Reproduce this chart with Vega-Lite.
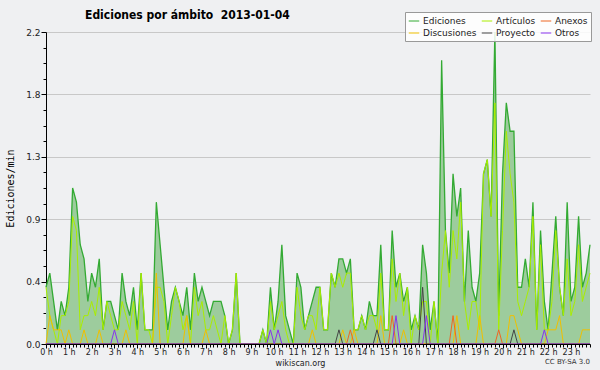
{
"$schema": "https://vega.github.io/schema/vega-lite/v6.json",
"width": 544, "height": 312,
"autosize": {"type": "none"},
"padding": {"left": 46, "top": 32, "right": 10, "bottom": 26},
"background": "#eff0f2",
"config": {"view": {"stroke": null}, "font": "DejaVu Sans", "axisX": {"labelOverlap": false}},
"title": {"text": "Ediciones por ámbito\u00a0 2013-01-04", "anchor": "start", "frame": "group", "dx": 39, "dy": 22, "offset": 12, "font": "DejaVu Sans Condensed", "fontSize": 12, "fontWeight": "bold", "color": "#000"},
"data": {"values": [
{"t":0,"E":0.4,"A":0.4,"D":0,"X":0,"P":0,"O":0},
{"t":10,"E":0.5,"A":0.2,"D":0.2,"X":0,"P":0,"O":0},
{"t":20,"E":0.3,"A":0.1,"D":0.1,"X":0,"P":0,"O":0},
{"t":30,"E":0.1,"A":0,"D":0.1,"X":0,"P":0,"O":0},
{"t":40,"E":0.3,"A":0.2,"D":0.1,"X":0,"P":0,"O":0},
{"t":50,"E":0.2,"A":0.2,"D":0,"X":0,"P":0,"O":0},
{"t":60,"E":0.4,"A":0.3,"D":0.1,"X":0,"P":0,"O":0},
{"t":70,"E":1.1,"A":0.9,"D":0,"X":0,"P":0,"O":0},
{"t":80,"E":1.0,"A":0.8,"D":0,"X":0,"P":0,"O":0},
{"t":90,"E":0.7,"A":0.1,"D":0,"X":0,"P":0,"O":0},
{"t":100,"E":0.6,"A":0.2,"D":0.1,"X":0,"P":0,"O":0},
{"t":110,"E":0.3,"A":0.2,"D":0,"X":0,"P":0,"O":0},
{"t":120,"E":0.5,"A":0.3,"D":0,"X":0,"P":0,"O":0},
{"t":130,"E":0.4,"A":0.2,"D":0,"X":0,"P":0,"O":0},
{"t":140,"E":0.6,"A":0.4,"D":0.1,"X":0,"P":0,"O":0},
{"t":150,"E":0.1,"A":0.1,"D":0,"X":0,"P":0,"O":0},
{"t":160,"E":0.3,"A":0.3,"D":0,"X":0,"P":0,"O":0},
{"t":170,"E":0.3,"A":0.2,"D":0,"X":0,"P":0,"O":0},
{"t":180,"E":0.2,"A":0.1,"D":0,"X":0,"P":0,"O":0.1},
{"t":190,"E":0.1,"A":0.1,"D":0,"X":0,"P":0,"O":0},
{"t":200,"E":0.5,"A":0.3,"D":0,"X":0,"P":0,"O":0},
{"t":210,"E":0.3,"A":0.2,"D":0.1,"X":0,"P":0,"O":0},
{"t":220,"E":0.2,"A":0.1,"D":0,"X":0,"P":0,"O":0},
{"t":230,"E":0.4,"A":0.3,"D":0,"X":0,"P":0,"O":0},
{"t":240,"E":0.1,"A":0,"D":0,"X":0,"P":0,"O":0},
{"t":250,"E":0.5,"A":0.5,"D":0,"X":0,"P":0,"O":0},
{"t":260,"E":0.1,"A":0.1,"D":0,"X":0,"P":0,"O":0},
{"t":270,"E":0.1,"A":0.1,"D":0,"X":0,"P":0,"O":0},
{"t":280,"E":0.1,"A":0,"D":0,"X":0,"P":0,"O":0},
{"t":290,"E":1.0,"A":0.4,"D":0.5,"X":0,"P":0,"O":0},
{"t":300,"E":0.7,"A":0.4,"D":0,"X":0,"P":0,"O":0},
{"t":310,"E":0.4,"A":0.3,"D":0,"X":0,"P":0,"O":0},
{"t":320,"E":0.1,"A":0,"D":0,"X":0,"P":0,"O":0},
{"t":330,"E":0.3,"A":0.2,"D":0,"X":0,"P":0,"O":0},
{"t":340,"E":0.4,"A":0.4,"D":0,"X":0,"P":0,"O":0},
{"t":350,"E":0.3,"A":0.3,"D":0,"X":0,"P":0,"O":0},
{"t":360,"E":0.2,"A":0.1,"D":0,"X":0,"P":0,"O":0},
{"t":370,"E":0.4,"A":0.2,"D":0.2,"X":0,"P":0,"O":0},
{"t":380,"E":0.1,"A":0,"D":0,"X":0,"P":0,"O":0},
{"t":390,"E":0.5,"A":0.4,"D":0,"X":0,"P":0,"O":0},
{"t":400,"E":0.3,"A":0.2,"D":0,"X":0,"P":0,"O":0},
{"t":410,"E":0.4,"A":0.3,"D":0,"X":0,"P":0,"O":0},
{"t":420,"E":0.3,"A":0.1,"D":0.1,"X":0,"P":0,"O":0},
{"t":430,"E":0.2,"A":0.1,"D":0,"X":0,"P":0,"O":0},
{"t":440,"E":0.3,"A":0.2,"D":0,"X":0,"P":0,"O":0},
{"t":450,"E":0.3,"A":0.1,"D":0,"X":0,"P":0,"O":0},
{"t":460,"E":0.3,"A":0,"D":0,"X":0,"P":0,"O":0},
{"t":470,"E":0.2,"A":0.2,"D":0,"X":0,"P":0,"O":0},
{"t":480,"E":0,"A":0,"D":0,"X":0,"P":0,"O":0},
{"t":490,"E":0.1,"A":0.1,"D":0,"X":0,"P":0,"O":0},
{"t":500,"E":0.5,"A":0.5,"D":0,"X":0,"P":0,"O":0},
{"t":510,"E":0,"A":0,"D":0,"X":0,"P":0,"O":0},
{"t":520,"E":0,"A":0,"D":0,"X":0,"P":0,"O":0},
{"t":530,"E":0,"A":0,"D":0,"X":0,"P":0,"O":0},
{"t":540,"E":0,"A":0,"D":0,"X":0,"P":0,"O":0},
{"t":550,"E":0,"A":0,"D":0,"X":0,"P":0,"O":0},
{"t":560,"E":0,"A":0,"D":0,"X":0,"P":0,"O":0},
{"t":570,"E":0.1,"A":0.1,"D":0,"X":0,"P":0,"O":0},
{"t":580,"E":0,"A":0,"D":0,"X":0,"P":0,"O":0},
{"t":590,"E":0.4,"A":0.3,"D":0,"X":0,"P":0,"O":0.1},
{"t":600,"E":0.1,"A":0.1,"D":0,"X":0,"P":0,"O":0},
{"t":610,"E":0.3,"A":0.2,"D":0,"X":0,"P":0,"O":0.1},
{"t":620,"E":0.7,"A":0.3,"D":0,"X":0,"P":0,"O":0},
{"t":630,"E":0.2,"A":0.1,"D":0,"X":0,"P":0,"O":0},
{"t":640,"E":0.1,"A":0,"D":0,"X":0,"P":0,"O":0},
{"t":650,"E":0,"A":0,"D":0,"X":0,"P":0,"O":0},
{"t":660,"E":0.5,"A":0.4,"D":0,"X":0,"P":0,"O":0},
{"t":670,"E":0.4,"A":0.2,"D":0,"X":0,"P":0,"O":0},
{"t":680,"E":0.1,"A":0.1,"D":0,"X":0,"P":0,"O":0},
{"t":690,"E":0.2,"A":0.2,"D":0,"X":0,"P":0,"O":0},
{"t":700,"E":0.3,"A":0.2,"D":0.1,"X":0,"P":0,"O":0},
{"t":710,"E":0.4,"A":0.1,"D":0,"X":0,"P":0,"O":0},
{"t":720,"E":0.4,"A":0.4,"D":0,"X":0,"P":0,"O":0},
{"t":730,"E":0.1,"A":0.1,"D":0,"X":0,"P":0,"O":0},
{"t":740,"E":0.1,"A":0.1,"D":0,"X":0,"P":0,"O":0},
{"t":750,"E":0.5,"A":0.5,"D":0,"X":0,"P":0,"O":0},
{"t":760,"E":0.4,"A":0.4,"D":0,"X":0,"P":0,"O":0},
{"t":770,"E":0.6,"A":0.5,"D":0,"X":0,"P":0.1,"O":0},
{"t":780,"E":0.6,"A":0.4,"D":0.1,"X":0,"P":0,"O":0},
{"t":790,"E":0.5,"A":0.5,"D":0,"X":0,"P":0,"O":0},
{"t":800,"E":0.6,"A":0.5,"D":0,"X":0.1,"P":0,"O":0},
{"t":810,"E":0.1,"A":0.1,"D":0.1,"X":0,"P":0,"O":0},
{"t":820,"E":0.1,"A":0.1,"D":0,"X":0,"P":0,"O":0},
{"t":830,"E":0.2,"A":0.2,"D":0,"X":0,"P":0,"O":0},
{"t":840,"E":0.1,"A":0.1,"D":0,"X":0,"P":0,"O":0},
{"t":850,"E":0.3,"A":0.2,"D":0,"X":0,"P":0,"O":0},
{"t":860,"E":0.2,"A":0.2,"D":0,"X":0,"P":0,"O":0},
{"t":870,"E":0.2,"A":0.1,"D":0,"X":0,"P":0.1,"O":0},
{"t":880,"E":0.7,"A":0.5,"D":0.2,"X":0,"P":0,"O":0},
{"t":890,"E":0.1,"A":0.1,"D":0,"X":0,"P":0,"O":0},
{"t":900,"E":0.1,"A":0.1,"D":0,"X":0,"P":0,"O":0},
{"t":910,"E":0.8,"A":0.6,"D":0,"X":0.2,"P":0,"O":0},
{"t":920,"E":0.4,"A":0.3,"D":0,"X":0,"P":0,"O":0.2},
{"t":930,"E":0.5,"A":0.5,"D":0,"X":0,"P":0,"O":0},
{"t":940,"E":0.3,"A":0.2,"D":0.1,"X":0,"P":0,"O":0},
{"t":950,"E":0.4,"A":0.4,"D":0,"X":0,"P":0,"O":0},
{"t":960,"E":0.1,"A":0,"D":0,"X":0,"P":0,"O":0},
{"t":970,"E":0.2,"A":0.2,"D":0,"X":0,"P":0,"O":0},
{"t":980,"E":0.1,"A":0.1,"D":0,"X":0,"P":0,"O":0},
{"t":990,"E":0.7,"A":0.3,"D":0,"X":0,"P":0.4,"O":0},
{"t":1000,"E":0.5,"A":0.3,"D":0,"X":0,"P":0,"O":0.2},
{"t":1010,"E":0.1,"A":0,"D":0,"X":0,"P":0,"O":0},
{"t":1020,"E":0.3,"A":0.3,"D":0,"X":0,"P":0,"O":0},
{"t":1030,"E":0,"A":0,"D":0,"X":0,"P":0,"O":0},
{"t":1040,"E":2.0,"A":0.5,"D":0,"X":0,"P":0,"O":0},
{"t":1050,"E":0.8,"A":0.8,"D":0,"X":0,"P":0,"O":0},
{"t":1060,"E":0.5,"A":0.4,"D":0,"X":0,"P":0,"O":0},
{"t":1070,"E":1.2,"A":0.8,"D":0,"X":0.2,"P":0,"O":0},
{"t":1080,"E":0.9,"A":0.6,"D":0.2,"X":0,"P":0,"O":0},
{"t":1090,"E":1.1,"A":1.0,"D":0,"X":0,"P":0,"O":0},
{"t":1100,"E":0.3,"A":0.3,"D":0,"X":0,"P":0,"O":0},
{"t":1110,"E":0.8,"A":0.1,"D":0,"X":0,"P":0,"O":0},
{"t":1120,"E":0.4,"A":0.3,"D":0,"X":0,"P":0,"O":0},
{"t":1130,"E":0.3,"A":0.3,"D":0,"X":0,"P":0,"O":0},
{"t":1140,"E":0.5,"A":0.1,"D":0.2,"X":0,"P":0,"O":0},
{"t":1150,"E":1.2,"A":1.2,"D":0,"X":0,"P":0,"O":0},
{"t":1160,"E":1.3,"A":1.3,"D":0,"X":0,"P":0,"O":0},
{"t":1170,"E":0.9,"A":0.9,"D":0,"X":0,"P":0,"O":0},
{"t":1180,"E":2.2,"A":1.7,"D":0,"X":0,"P":0,"O":0},
{"t":1190,"E":0.2,"A":0.1,"D":0,"X":0.1,"P":0,"O":0},
{"t":1200,"E":1.2,"A":0.8,"D":0,"X":0,"P":0,"O":0},
{"t":1210,"E":1.7,"A":1.5,"D":0,"X":0,"P":0,"O":0},
{"t":1220,"E":1.5,"A":1.2,"D":0.2,"X":0,"P":0,"O":0},
{"t":1230,"E":1.5,"A":1.0,"D":0.2,"X":0,"P":0.1,"O":0},
{"t":1240,"E":0.4,"A":0.3,"D":0.1,"X":0,"P":0,"O":0},
{"t":1250,"E":0.4,"A":0.2,"D":0,"X":0,"P":0,"O":0},
{"t":1260,"E":0.6,"A":0.3,"D":0,"X":0,"P":0,"O":0},
{"t":1270,"E":0.4,"A":0.4,"D":0,"X":0,"P":0,"O":0},
{"t":1280,"E":1.0,"A":0.9,"D":0,"X":0,"P":0,"O":0},
{"t":1290,"E":0.1,"A":0.1,"D":0,"X":0,"P":0,"O":0},
{"t":1300,"E":0.8,"A":0.7,"D":0,"X":0,"P":0,"O":0},
{"t":1310,"E":0.3,"A":0.1,"D":0,"X":0,"P":0,"O":0.1},
{"t":1320,"E":0.1,"A":0.1,"D":0.1,"X":0,"P":0,"O":0},
{"t":1330,"E":0.5,"A":0.3,"D":0.1,"X":0,"P":0,"O":0},
{"t":1340,"E":0.9,"A":0.8,"D":0.1,"X":0,"P":0,"O":0},
{"t":1350,"E":0.4,"A":0.4,"D":0.2,"X":0,"P":0,"O":0},
{"t":1360,"E":0.2,"A":0.2,"D":0,"X":0,"P":0,"O":0},
{"t":1370,"E":1.0,"A":0.6,"D":0,"X":0,"P":0,"O":0},
{"t":1380,"E":0.3,"A":0.2,"D":0,"X":0,"P":0,"O":0},
{"t":1390,"E":0.4,"A":0.3,"D":0,"X":0,"P":0,"O":0},
{"t":1400,"E":0.9,"A":0.7,"D":0,"X":0,"P":0,"O":0},
{"t":1410,"E":0.4,"A":0.3,"D":0.1,"X":0,"P":0,"O":0},
{"t":1420,"E":0.5,"A":0.4,"D":0.1,"X":0,"P":0,"O":0},
{"t":1430,"E":0.7,"A":0.5,"D":0.1,"X":0,"P":0,"O":0}
]},
"transform": [{"fold": ["E","A","X","D","P","O"], "as": ["serie","v"]}],
"encoding": {
"x": {"field": "t", "type": "quantitative", "scale": {"domain": [0,1430], "nice": false, "zero": false},
 "axis": {"title": "wikiscan.org", "values": [0,10,20,30,40,50,60,70,80,90,100,110,120,130,140,150,160,170,180,190,200,210,220,230,240,250,260,270,280,290,300,310,320,330,340,350,360,370,380,390,400,410,420,430,440,450,460,470,480,490,500,510,520,530,540,550,560,570,580,590,600,610,620,630,640,650,660,670,680,690,700,710,720,730,740,750,760,770,780,790,800,810,820,830,840,850,860,870,880,890,900,910,920,930,940,950,960,970,980,990,1000,1010,1020,1030,1040,1050,1060,1070,1080,1090,1100,1110,1120,1130,1140,1150,1160,1170,1180,1190,1200,1210,1220,1230,1240,1250,1260,1270,1280,1290,1300,1310,1320,1330,1340,1350,1360,1370,1380,1390,1400,1410,1420,1430],
  "labelExpr": "datum.value % 60 === 0 ? (datum.value / 60) + ' h' : ''",
  "labelFont": "DejaVu Sans", "labelFontSize": 8, "labelColor": "#222", "labelPadding": 0, "labelFlush": false, "labelOverlap": false, "labelSeparation": 0, "labelBound": false,
  "tickSize": {"condition": {"test": "datum.value % 60 === 0", "value": 4}, "value": 3}, "tickColor": "#000", "domainColor": "#000", "grid": false,
  "titleFont": "DejaVu Sans", "titleFontSize": 8, "titleFontWeight": "normal", "titleColor": "#222", "titleX": 254, "titleY": 19, "titleBaseline": "middle", "titleAlign": "center", "zindex": 1}},
"y": {"field": "v", "type": "quantitative", "scale": {"domain": [0,2.2], "nice": false},
 "axis": {"title": "Ediciones/min", "values": [0,0.11,0.22,0.33,0.44,0.55,0.66,0.77,0.88,0.99,1.1,1.21,1.32,1.43,1.54,1.65,1.76,1.87,1.98,2.09,2.2],
  "labelExpr": "abs(datum.value / 0.44 - round(datum.value / 0.44)) < 0.01 ? format(datum.value, '.1f') : ''",
  "labelFont": "DejaVu Sans", "labelFontSize": 9, "labelColor": "#222", "labelPadding": 1, "labelFlush": false, "labelOverlap": false,
  "tickSize": {"condition": {"test": "abs(datum.value / 0.44 - round(datum.value / 0.44)) < 0.01", "value": 5}, "value": 3}, "tickColor": "#000", "domainColor": "#000",
  "grid": true, "gridColor": "#c8c8c8", "gridOpacity": {"condition": {"test": "abs(datum.value / 0.44 - round(datum.value / 0.44)) < 0.01", "value": 1}, "value": 0},
  "titleFont": "DejaVu Sans Mono", "titleFontSize": 10, "titleFontWeight": "normal", "titleColor": "#000", "titleX": -36, "titleY": 156, "titleAngle": -90, "titleAlign": "center", "titleBaseline": "middle"}}
},
"layer": [
{"transform": [{"filter": "datum.serie === 'E'"}], "mark": {"type": "area", "fill": "#9dcc9d", "opacity": 1}},
{"transform": [{"filter": "datum.serie === 'E'"}], "mark": {"type": "line", "strokeWidth": 1.3},
 "encoding": {"color": {"datum": "Ediciones", "scale": {"domain": ["Ediciones","Artículos","Anexos","Discusiones","Proyecto","Otros"], "range": ["#33aa33","#aaee00","#ee6622","#f0c000","#444444","#8833ee"]},
  "legend": {"title": null, "orient": "none", "legendX": 359, "legendY": -20, "direction": "horizontal", "columns": 3, "symbolType": "stroke", "symbolSize": 110, "symbolStrokeWidth": 1, "labelFont": "DejaVu Sans", "labelFontSize": 9, "labelColor": "#222", "columnPadding": 2, "rowPadding": 1, "padding": 3, "labelOffset": 3, "fillColor": "rgba(255,255,255,0.85)", "strokeColor": "#999999"}}}},
{"transform": [{"filter": "datum.serie === 'A'"}], "mark": {"type": "line", "strokeWidth": 1}, "encoding": {"color": {"datum": "Artículos"}}},
{"transform": [{"filter": "datum.serie === 'D'"}], "mark": {"type": "line", "strokeWidth": 1}, "encoding": {"color": {"datum": "Discusiones"}}},
{"transform": [{"filter": "datum.serie === 'X'"}], "mark": {"type": "line", "strokeWidth": 1}, "encoding": {"color": {"datum": "Anexos"}}},
{"transform": [{"filter": "datum.serie === 'P'"}], "mark": {"type": "line", "strokeWidth": 1}, "encoding": {"color": {"datum": "Proyecto"}}},
{"transform": [{"filter": "datum.serie === 'O'"}], "mark": {"type": "line", "strokeWidth": 1}, "encoding": {"color": {"datum": "Otros"}}},
{"transform": [{"filter": "datum.serie === 'E' && datum.t === 1430"}],
 "mark": {"type": "text", "text": "CC BY-SA 3.0", "align": "right", "baseline": "middle", "fontSize": 7, "font": "DejaVu Sans", "color": "#333"},
 "encoding": {"y": {"datum": -0.125}}}
]
}
